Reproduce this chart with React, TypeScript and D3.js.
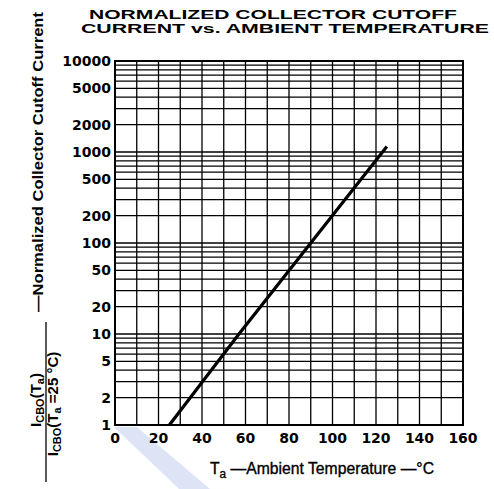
import React from 'react'
import * as d3 from 'd3'

// axis ticks
const xTickLabels = [0, 20, 40, 60, 80, 100, 120, 140, 160]
const yTickLabels = [10000, 5000, 2000, 1000, 500, 200, 100, 50, 20, 10, 5, 2, 1]

// curve
const curveTemp = [25, 57, 90, 125]
const curveRatio = [1, 10, 100, 1150]

const W = 494
const H = 489
const plot = { left: 115, right: 463, top: 61, bottom: 425 }

export default function App() {
  const x = d3.scaleLinear().domain([0, 160]).range([plot.left, plot.right])
  const y = d3.scaleLog().domain([1, 10000]).range([plot.bottom, plot.top])

  const vGrid = d3.range(0, 161, 10)
  const hGrid = y.ticks()

  const pts = curveTemp.map((t, i) => [t, curveRatio[i]] as [number, number])
  const line = d3.line<[number, number]>().x(d => x(d[0])).y(d => y(d[1]))

  const bold = { fontFamily: 'DejaVu Sans', fontWeight: 700 }
  const heading = { fontFamily: 'Liberation Sans', fontWeight: 700 }

  return (
    <svg width={W} height={H} style={{ position: 'absolute', left: 0, top: 0, background: '#fff' }}>
      {/* faint blue scan band */}
      <polygon points="114,427 137,427 210,489 179,489" fill="#dce4f5" />

      {/* title */}
      <text x={89} y={19} fontSize={12.8} textLength={368} lengthAdjust="spacingAndGlyphs" {...heading}>
        NORMALIZED COLLECTOR CUTOFF
      </text>
      <text x={81} y={33} fontSize={12.8} textLength={408} lengthAdjust="spacingAndGlyphs" {...heading}>
        CURRENT vs. AMBIENT TEMPERATURE
      </text>

      {/* grid */}
      <g stroke="#000" strokeWidth={1.3}>
        {vGrid.map(v => (
          <line key={'v' + v} x1={x(v)} x2={x(v)} y1={plot.top} y2={plot.bottom} />
        ))}
        {hGrid.map(v => (
          <line key={'h' + v} x1={plot.left} x2={plot.right} y1={y(v)} y2={y(v)} />
        ))}
      </g>
      <rect x={plot.left} y={plot.top} width={plot.right - plot.left} height={plot.bottom - plot.top}
        fill="none" stroke="#000" strokeWidth={2} />

      {/* curve */}
      <path d={line(pts) || ''} fill="none" stroke="#000" strokeWidth={3.2} strokeLinecap="butt" />

      {/* y tick labels */}
      {yTickLabels.map(v => (
        <text key={'yl' + v} x={111} y={y(v) + 5} textAnchor="end" fontSize={14} {...bold}>{v}</text>
      ))}
      {/* x tick labels */}
      {xTickLabels.map(v => (
        <text key={'xl' + v} x={x(v)} y={443} textAnchor="middle" fontSize={14} {...bold}>{v}</text>
      ))}

      {/* x title */}
      <text x={210} y={474} fontSize={16} fontFamily="Liberation Sans" stroke="#000" strokeWidth={0.35}
        textLength={224} lengthAdjust="spacingAndGlyphs">
        T<tspan fontSize={12} dy={4}>a</tspan><tspan dy={-4}> —Ambient Temperature —°C</tspan>
      </text>

      {/* y title, rotated */}
      <g transform="rotate(-90)" fontFamily="Liberation Sans" fontWeight={700}>
        <text x={-312} y={43} fontSize={15} textLength={300} lengthAdjust="spacingAndGlyphs">
          —Normalized  Collector  Cutoff  Current
        </text>
        <text x={-400} y={41} fontSize={15} textAnchor="middle">
          I<tspan fontSize={11} dy={3}>CBO</tspan><tspan dy={-3}>(T</tspan><tspan fontSize={11} dy={3}>a</tspan><tspan dy={-3}>)</tspan>
        </text>
        <line x1={-482} x2={-322} y1={46} y2={46} stroke="#000" strokeWidth={1.3} />
        <text x={-404} y={58} fontSize={15} textAnchor="middle">
          I<tspan fontSize={11} dy={3}>CBO</tspan><tspan dy={-3}>(T</tspan><tspan fontSize={11} dy={3}>a</tspan><tspan dy={-3}> =25 °C)</tspan>
        </text>
      </g>
    </svg>
  )
}
